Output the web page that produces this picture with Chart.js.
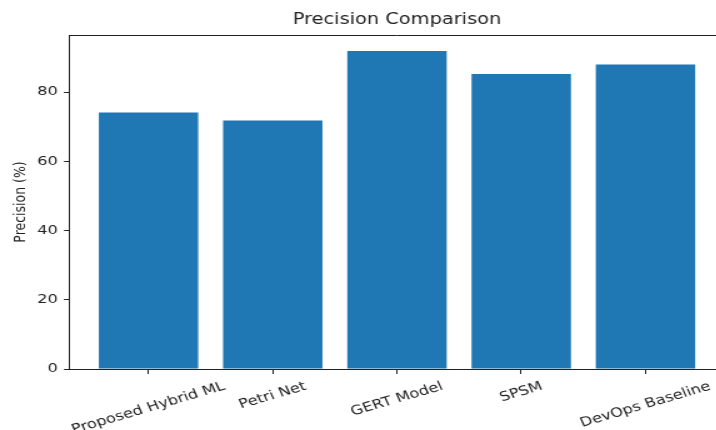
<!DOCTYPE html>
<html>
<head>
<meta charset="utf-8">
<script src="https://cdn.jsdelivr.net/npm/chart.js@4.4.1/dist/chart.umd.min.js"></script>
<style>
  html, body { margin: 0; padding: 0; background: #fff; overflow: hidden; width: 716px; height: 430px; }
  /* the reference picture is stretched sideways, so the canvas is drawn narrow and widened */
  #wrap { position: absolute; left: 0; top: 0; width: 582px; height: 430px; transform: scaleX(1.25); transform-origin: 0 0; }
</style>
</head>
<body>
<div id="wrap"><canvas id="barChart" width="582" height="430"></canvas></div>
<script>
const categories = ["Proposed Hybrid ML", "Petri Net", "GERT Model", "SPSM", "DevOps Baseline"];
const precision = [74.1, 71.8, 91.9, 85.2, 88.0];
const yTicks = [0, 20, 40, 60, 80];

const FONT = "'DejaVu Sans', sans-serif";
const TEXT = "#222";

// title, top spine and tilted category labels
const extras = {
  id: "extras",
  afterDraw(chart) {
    const ctx = chart.ctx;
    const area = chart.chartArea;
    const xs = chart.scales.x;

    ctx.save();
    ctx.strokeStyle = "#222";
    ctx.lineWidth = 1;
    ctx.beginPath();
    ctx.moveTo(area.left, Math.round(area.top) + 0.5);
    ctx.lineTo(area.right, Math.round(area.top) + 0.5);
    ctx.stroke();

    ctx.fillStyle = TEXT;
    ctx.font = "15.5px " + FONT;
    ctx.textAlign = "center";
    ctx.textBaseline = "middle";
    ctx.fillText("Precision Comparison", (area.left + area.right) / 2, 20);

    const angle = 20 * Math.PI / 180;
    const fs = 13;
    ctx.font = fs + "px " + FONT;
    categories.forEach(function (label, i) {
      const w = ctx.measureText(label).width;
      const h = fs * 1.16;
      const boxH = w * Math.sin(angle) + h * Math.cos(angle);
      const px = xs.getPixelForValue(i);
      const py = area.bottom + 5 + 5 + boxH / 2;
      ctx.save();
      ctx.translate(px, py);
      ctx.rotate(-angle);
      ctx.fillText(label, 0, 0);
      ctx.restore();
    });
    ctx.restore();
  }
};

const data = {
  datasets: [
    {
      label: "Precision",
      data: precision.map(function (v, i) { return { x: i, y: v }; }),
      backgroundColor: "#1f77b4",
      borderWidth: 0,
      categoryPercentage: 1,
      barPercentage: 0.8,
    },
  ],
};

const config = {
  type: "bar",
  data: data,
  options: {
    responsive: false,
    animation: false,
    layout: { padding: { top: 35, right: 2, bottom: 0, left: 0 } },
    plugins: {
      legend: { display: false },
      tooltip: { enabled: false },
      title: { display: false },
    },
    scales: {
      x: {
        type: "linear",
        offset: false,
        min: -0.64,
        max: 4.64,
        ticks: { stepSize: 1, includeBounds: false, display: false },
        grid: { offset: false, drawOnChartArea: false, drawTicks: true, tickLength: 5, color: "#222" },
        border: { color: "#222", width: 1 },
        afterFit: function (scale) { scale.height = 61; },
      },
      y: {
        min: 0,
        max: 96.5,
        afterBuildTicks: function (scale) {
          scale.ticks = yTicks.map(function (v) { return { value: v }; });
        },
        ticks: {
          color: TEXT,
          padding: 5,
          font: { family: FONT, size: 13 },
        },
        grid: { drawOnChartArea: false, drawTicks: true, tickLength: 4, color: "#222" },
        border: { color: "#222", width: 1 },
        title: {
          display: true,
          text: "Precision (%)",
          color: TEXT,
          font: { family: FONT, size: 12.5 },
          padding: { top: 9, bottom: 0 },
        },
        afterFit: function (scale) { scale.width = 55.2; },
      },
    },
  },
  plugins: [extras],
};

const barChart = new Chart(document.getElementById("barChart"), config);
</script>
</body>
</html>
